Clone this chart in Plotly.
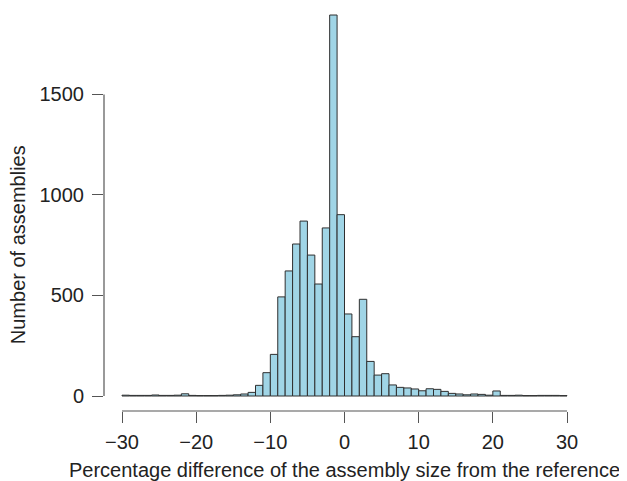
import plotly.graph_objects as go

bin_left = list(range(-30, 30))
counts = [4, 3, 3, 3, 5, 3, 3, 4, 11, 3,
          2, 2, 2, 3, 4, 6, 10, 18, 53, 116,
          207, 493, 622, 756, 870, 701, 557, 836, 1895, 902,
          408, 295, 481, 172, 104, 111, 55, 43, 40, 35,
          26, 36, 33, 23, 13, 10, 6, 10, 8, 4,
          25, 3, 3, 4, 2, 2, 3, 3, 3, 2]
x_ticks = [-30, -20, -10, 0, 10, 20, 30]
x_ticktext = ["\u221230", "\u221220", "\u221210", "0", "10", "20", "30"]
y_ticks = [0, 500, 1000, 1500]
y_ticktext = ["0", "500", "1000", "1500"]

centers = [b + 0.5 for b in bin_left]

font_family = "Liberation Sans, Arial, Helvetica, sans-serif"
FS = 20

fig = go.Figure()
fig.add_trace(go.Bar(
    x=centers, y=counts, width=1,
    marker=dict(color="#a0d5e6", line=dict(color="#2f2f2f", width=1)),
    hoverinfo="x+y",
))

fig.update_layout(
    width=619, height=473,
    margin=dict(l=96, r=58, t=2, b=70),
    paper_bgcolor="white", plot_bgcolor="white",
    showlegend=False,
    font=dict(family=font_family, size=FS, color="#222"),
    xaxis=dict(range=[-32.427, 30.27], showgrid=False, zeroline=False, showline=False,
               tickmode="array", tickvals=x_ticks, ticktext=x_ticktext,
               ticks="outside", ticklen=11, tickcolor="#555", tickwidth=1.2,
               tickfont=dict(size=FS, color="#222"), ticklabelstandoff=2),
    yaxis=dict(range=[-74.6, 1920], showgrid=False, zeroline=False, showline=False,
               tickmode="array", tickvals=y_ticks, ticktext=y_ticktext,
               ticks="outside", ticklen=11, tickcolor="#555", tickwidth=1.2,
               tickfont=dict(size=FS, color="#222"), ticklabelstandoff=4),
    shapes=[
        dict(type="line", xref="paper", yref="y", x0=0, x1=0, y0=0, y1=1500,
             line=dict(color="#555", width=1.2)),
        dict(type="line", xref="x", yref="paper", x0=-30, x1=30, y0=0, y1=0,
             line=dict(color="#555", width=1.2)),
    ],
    annotations=[
        dict(text="Number of assemblies", textangle=-90, xref="paper", yref="y",
             x=0, y=750, xanchor="center", yanchor="middle", xshift=-86,
             showarrow=False, font=dict(size=FS, color="#222")),
        dict(text="Percentage difference of the assembly size from the reference",
             xref="x", yref="paper", x=0, y=0, xanchor="center", yanchor="middle",
             yshift=-59, showarrow=False, font=dict(size=FS, color="#222")),
    ],
)

fig.write_html("out.html")
